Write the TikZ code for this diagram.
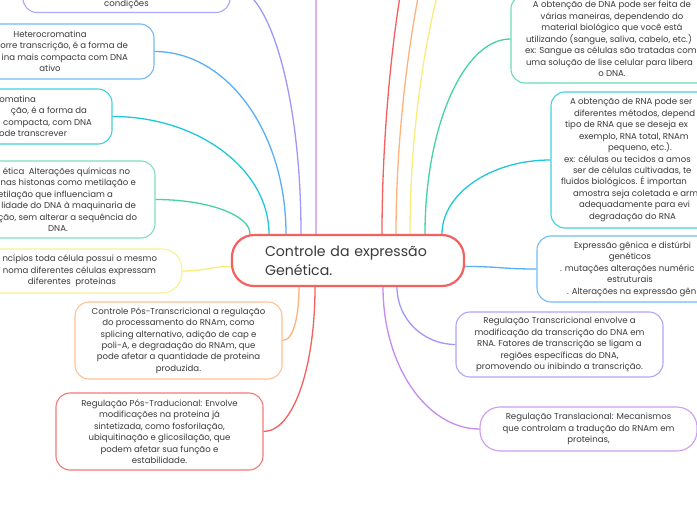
\documentclass[tikz,border=0pt]{standalone}
\usepackage{fontspec}
\setmainfont{Poppins}

\definecolor{cred}{HTML}{F4605F}
\definecolor{corange}{HTML}{FFB27D}
\definecolor{cyellow}{HTML}{F7EC7C}
\definecolor{cgreen}{HTML}{45D3A0}
\definecolor{ccyan}{HTML}{1FC8D8}
\definecolor{cblue}{HTML}{5AAEF5}
\definecolor{clav}{HTML}{9F98F8}
\definecolor{cpurple}{HTML}{C58BF0}
\definecolor{txt}{HTML}{3A3A3A}

\tikzset{
  topic/.style={draw, rounded corners=14bp, line width=1.1bp, align=center,
    inner sep=0pt, text=txt, font=\fontsize{8.6}{11.5}\selectfont},
  link/.style={line width=1.3bp},
}

\begin{document}
\begin{tikzpicture}[x=1bp, y=-1bp]
\useasboundingbox (0,0) rectangle (697,520);
\fill[white] (0,0) rectangle (697,520);
\clip (0,0) rectangle (697,520);

\node[draw=cred, line width=2.2bp, rounded corners=22bp, minimum width=232bp,
  minimum height=51bp, text width=166bp, align=left, inner sep=0pt, text=txt,
  font=\fontsize{14.2}{19}\selectfont] (ctr) at (348,260.5) {Controle da expressão\\Genética.};

\node[topic, draw=clav!85!white, minimum width=207bp, minimum height=53bp] (cond) at (126.5,-14) {\strut\\\strut\\\strut\\condições};
\node[topic, draw=cblue!85!white, minimum width=208bp, minimum height=55bp] (het) at (50,51.5) {Heterocromatina\\\makebox[156bp][r]{orre transcrição, é a forma de}\\\makebox[156bp][r]{ina mais compacta com DNA}\\ativo};
\node[topic, draw=ccyan!85!white, minimum width=208bp, minimum height=55bp] (euc) at (8,116.5) {\makebox[56bp][r]{omatina}\\\makebox[158bp][r]{ção, é a forma da}\\\makebox[168bp][r]{ compacta, com DNA}\\\makebox[118bp][r]{ode transcrever}};
\node[topic, draw=cgreen!70!white, minimum width=194bp, minimum height=77bp] (epi) at (58,199.5) {\makebox[144bp][r]{ética\ \ Alterações químicas no}\\\makebox[156bp][r]{nas histonas como metilação e}\\\makebox[110bp][r]{etilação que influenciam a}\\\makebox[156bp][r]{lidade do DNA à maquinaria de}\\\makebox[158bp][r]{ção, sem alterar a sequência do}\\DNA.};
\node[topic, draw=cyellow!80!white, rounded corners=20bp, minimum width=220bp, minimum height=44bp] (pri) at (72,271) {\makebox[170bp][r]{ncípios toda célula possui o mesmo}\\\makebox[168bp][r]{noma diferentes células expressam}\\diferentes\ \ proteinas};
\node[topic, draw=corange!80!white, minimum width=207bp, minimum height=77bp] (cpt) at (178.5,340.5) {Controle Pós-Transcricional a regulação\\do processamento do RNAm, como\\splicing alternativo, adição de cap e\\poli-A, e degradação do RNAm, que\\pode afetar a quantidade de proteina\\produzida.};
\node[topic, draw=cred!85!white, minimum width=207bp, minimum height=77bp] (ptr) at (159.5,431.5) {Regulação Pós-Traducional: Envolve\\modificações na proteina já\\sintetizada, como fosforilação,\\ubiquitinação e glicosilação, que\\podem afetar sua função e\\estabilidade.};

\node[topic, draw=cgreen!80!white, minimum width=202bp, minimum height=88bp] (dna) at (612,39) {A obtenção de DNA pode ser feita de\\várias maneiras, dependendo do\\material biológico que você está\\\makebox[172bp][l]{utilizando (sangue, saliva, cabelo, etc.)}\\\makebox[174bp][l]{ex: Sangue as células são tratadas com}\\\makebox[172bp][l]{uma solução de lise celular para libera}\\o DNA.};
\node[topic, draw=ccyan!85!white, minimum width=178bp, minimum height=136bp] (rna) at (640,160) {\makebox[140bp][l]{A obtenção de RNA pode ser}\\\makebox[132bp][l]{diferentes métodos, depend}\\\makebox[150bp][l]{tipo de RNA que se deseja ex}\\\makebox[122bp][l]{exemplo, RNA total, RNAm}\\pequeno, etc.).\\\makebox[152bp][l]{ex: células ou tecidos a amos}\\\makebox[134bp][l]{ser de células cultivadas, te}\\\makebox[158bp][l]{fluidos biológicos. É importan}\\\makebox[134bp][l]{amostra seja coletada e arm}\\\makebox[122bp][l]{adequadamente para evi}\\\makebox[102bp][l]{degradação do RNA}};
\node[topic, draw=cblue!85!white, minimum width=186bp, minimum height=66bp] (exp) at (630,269) {\makebox[112bp][l]{Expressão gênica e distúrbi}\\genéticos\\\makebox[140bp][l]{. mutações alterações numéric}\\estruturais\\\makebox[126bp][l]{. Alterações na expressão gên}};
\node[topic, draw=clav!85!white, minimum width=207bp, minimum height=65bp] (trc) at (559.5,344.5) {Regulação Transcricional envolve a\\modificação da transcrição do DNA em\\RNA. Fatores de transcrição se ligam a\\regiões específicas do DNA,\\promovendo ou inibindo a transcrição.};
\node[topic, draw=cpurple!85!white, rounded corners=20bp, minimum width=217bp, minimum height=44bp] (trl) at (588.5,429) {Regulação Translacional: Mecanismos\\que controlam a tradução do RNAm em\\proteinas,};

\coordinate (upA) at (316,-30);
\coordinate (upB) at (405,-30);
\coordinate (upC) at (424,-30);
\coordinate (upD) at (444,-30);

% left side
\draw[link, clav] (cond.east) .. controls +(39,0) and +(0,-138) .. ([xshift=-47bp]ctr.north);
\draw[link, cblue] (het.east) .. controls +(73,0) and +(0,-101) .. ([xshift=-62bp]ctr.north);
\draw[link, ccyan] (euc.east) .. controls +(86,0) and +(0,-64) .. ([xshift=-79bp]ctr.north);
\draw[link, cgreen] (epi.east) .. controls +(52,0) and +(0,-19) .. ([xshift=-98bp]ctr.north);
\draw[link, cyellow] (pri.east) .. controls +(25,0) and +(-22,0) .. ([yshift=-6bp]ctr.west);
\draw[link, corange] (cpt.east) .. controls +(12,0) and +(0,25) .. ([xshift=-49bp]ctr.south);
\draw[link, cred] (ptr.east) .. controls +(30,0) and +(0,80) .. ([xshift=-33bp]ctr.south);

% up, out of view
\draw[link, cpurple] ([xshift=-32bp]ctr.north) -- (upA);
\draw[link, cred] ([xshift=34bp]ctr.north) .. controls +(0,-115) and +(-9,40) .. (upB);
\draw[link, corange] ([xshift=48bp]ctr.north) .. controls +(0,-115) and +(-10,40) .. (upC);
\draw[link, cyellow] ([xshift=62bp]ctr.north) .. controls +(0,-125) and +(-12,40) .. (upD);

% right side
\draw[link, cgreen] ([xshift=77bp]ctr.north) .. controls +(0,-107) and +(-47,0) .. (dna.west);
\draw[link, ccyan] ([xshift=94bp]ctr.north) .. controls +(0,-40) and +(-60,0) .. (rna.west);
\draw[link, cblue] ([yshift=-6bp]ctr.east) .. controls +(36,0) and +(-36,0) .. (exp.west);
\draw[link, clav] ([xshift=49bp]ctr.south) .. controls +(0,32) and +(-32,0) .. (trc.west);
\draw[link, cpurple] ([xshift=35bp]ctr.south) .. controls +(0,78) and +(-53,0) .. (trl.west);

\end{tikzpicture}
\end{document}
